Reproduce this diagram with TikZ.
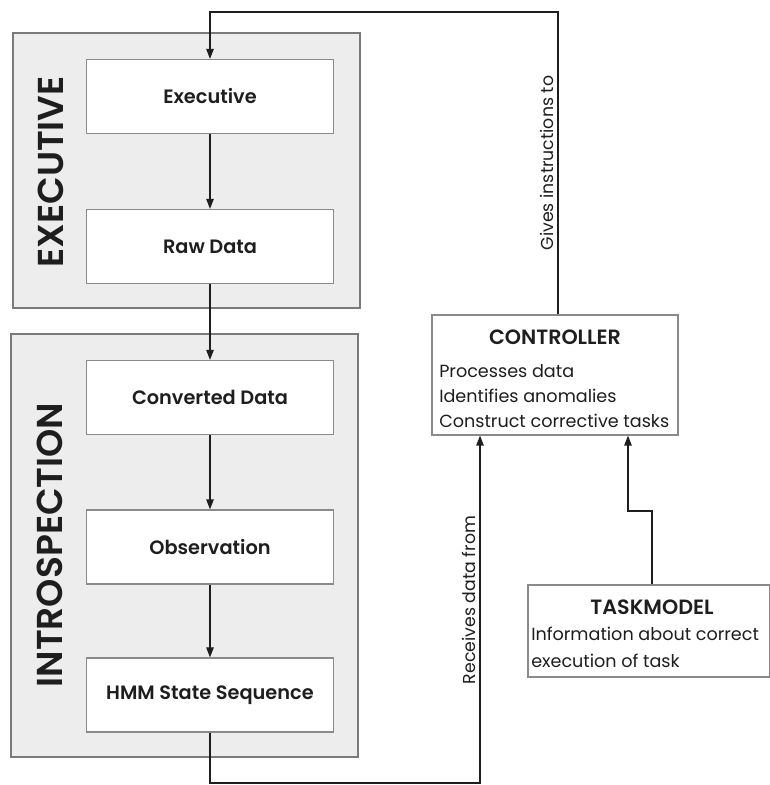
\documentclass[tikz,border=0pt]{standalone}
\usepackage{fontspec}
\setmainfont{Poppins}[BoldFont={Poppins SemiBold}]
\usetikzlibrary{arrows.meta}
\definecolor{panelfill}{HTML}{EDEDED}
\definecolor{panelline}{HTML}{7A7A7A}
\definecolor{boxline}{HTML}{8A8A8A}
\definecolor{ink}{HTML}{1E1E1E}
\tikzset{
  panel/.style={draw=panelline, fill=panelfill, line width=0.8pt},
  stage/.style={draw=boxline, fill=white, line width=0.8pt, minimum width=185.25pt, minimum height=55.5pt,
    inner sep=0pt, font=\fontsize{14.5}{17}\selectfont\bfseries, text=ink},
  infobox/.style={draw=boxline, fill=white, line width=0.8pt, inner sep=0pt},
  conn/.style={draw=ink, line width=1pt},
  arr/.style={conn, -{Triangle[length=7.5pt,width=5.5pt]}},
  biglabel/.style={rotate=90, font=\fontsize{27}{30}\selectfont\bfseries, text=ink},
  edgelabel/.style={rotate=90, font=\fontsize{13}{15}\selectfont, text=ink},
  bodytext/.style={font=\fontsize{13.2}{15}\selectfont, text=ink, anchor=base west, inner sep=0pt},
  headtext/.style={font=\fontsize{15.5}{17}\selectfont\bfseries, text=ink}
}
\begin{document}
\begin{tikzpicture}[x=0.75pt, y=-0.75pt]
\useasboundingbox (0,0) rectangle (770,785);

% grey group panels
\draw[panel] (13,33) rectangle (360,308);
\draw[panel] (11,334) rectangle (358,757);
\node[biglabel] (lblexec) at (51,172) {EXECUTIVE};
\node[biglabel] (lblintro) at (50,545) {INTROSPECTION};

% processing stages
\node[stage] (exec) at (210,96.5) {Executive};
\node[stage] (raw)  at (210,246.5) {Raw Data};
\node[stage] (conv) at (210,397.5) {Converted Data};
\node[stage] (obs)  at (210,547) {Observation};
\node[stage] (hmm)  at (210,695) {HMM State Sequence};

\draw[arr] (exec) -- (raw);
\draw[arr] (raw) -- (conv);
\draw[arr] (conv) -- (obs);
\draw[arr] (obs) -- (hmm);

% controller
\node[infobox, minimum width=184.5pt, minimum height=90pt] (ctrl) at (555,375) {};
\node[headtext] (ctrlhead) at (555,337) {CONTROLLER};
\node[bodytext] (c1) at (439,377) {Processes data};
\node[bodytext] (c2) at (439,402) {Identifies anomalies};
\node[bodytext] (c3) at (439,427) {Construct corrective tasks};

% task model
\node[infobox, minimum width=181.5pt, minimum height=69pt] (task) at (649,631) {};
\node[headtext] (taskhead) at (652,607) {TASKMODEL};
\node[bodytext] (t1) at (531,640) {Information about correct};
\node[bodytext] (t2) at (531,667) {execution of task};

% feedback loop: controller to executive
\coordinate (top) at (558,12);
\draw[arr] (top |- ctrl.north) -- (top) -| (exec.north);
\node[edgelabel, anchor=south] (give) at (558,163) {Gives instructions to};

% data path: HMM output to controller
\coordinate (bot) at (480,783);
\draw[arr] (hmm.south) |- (bot) -- (bot |- ctrl.south);
\node[edgelabel, anchor=south] (recv) at (480,600) {Receives data from};

% task model to controller
\coordinate (tk1) at (652,511);
\coordinate (tk2) at (628,511);
\draw[arr] (tk1 |- task.north) -- (tk1) -- (tk2) -- (tk2 |- ctrl.south);
\end{tikzpicture}
\end{document}
